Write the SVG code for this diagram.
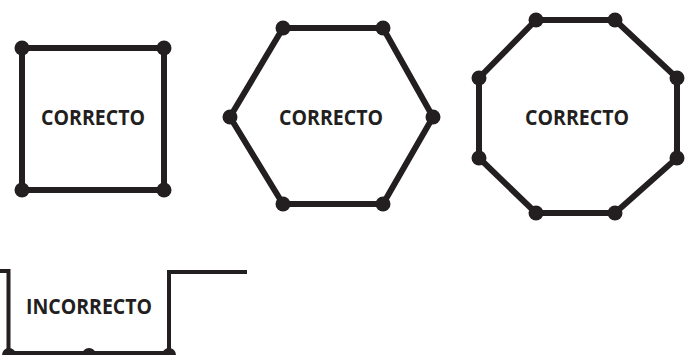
<svg xmlns="http://www.w3.org/2000/svg" width="691" height="355" viewBox="0 0 691 355">
<style>
.edge{fill:none;stroke:#231f20;stroke-width:6;stroke-linejoin:miter}
.thin{fill:none;stroke:#231f20;stroke-width:4}
.dot{fill:#231f20}
.lbl{font-family:"Open Sans","Liberation Sans",sans-serif;font-weight:bold;font-size:21px;fill:#231f20;text-anchor:middle}
</style>
<rect width="691" height="355" fill="#fff"/>
<g id="connectors">
<polygon class="edge" points="22,48 164,48 164,190 22,190"/>
<polygon class="edge" points="283,28 383,28 433,117 383,204 283,204 230,117"/>
<polygon class="edge" points="536,20 615,20 677,78 677,158 615,213 536,213 479,158 479,78"/>
<polyline class="thin" points="0,271 8.5,271 8.5,353 169,353 169,272 247,272"/>
</g>
<g id="square">
<circle class="dot" cx="22" cy="48" r="7.5"/><circle class="dot" cx="164" cy="48" r="7.5"/>
<circle class="dot" cx="22" cy="190" r="7.5"/><circle class="dot" cx="164" cy="190" r="7.5"/>
<text class="lbl" x="93" y="125" textLength="104" lengthAdjust="spacingAndGlyphs">CORRECTO</text>
</g>
<g id="hexagon">
<circle class="dot" cx="283" cy="28" r="7.5"/><circle class="dot" cx="383" cy="28" r="7.5"/>
<circle class="dot" cx="433" cy="117" r="7.5"/><circle class="dot" cx="230" cy="117" r="7.5"/>
<circle class="dot" cx="283" cy="204" r="7.5"/><circle class="dot" cx="383" cy="204" r="7.5"/>
<text class="lbl" x="331" y="125" textLength="104" lengthAdjust="spacingAndGlyphs">CORRECTO</text>
</g>
<g id="octagon">
<circle class="dot" cx="536" cy="20" r="7.5"/><circle class="dot" cx="615" cy="20" r="7.5"/>
<circle class="dot" cx="677" cy="78" r="7.5"/><circle class="dot" cx="677" cy="158" r="7.5"/>
<circle class="dot" cx="615" cy="213" r="7.5"/><circle class="dot" cx="536" cy="213" r="7.5"/>
<circle class="dot" cx="479" cy="158" r="7.5"/><circle class="dot" cx="479" cy="78" r="7.5"/>
<text class="lbl" x="577" y="125" textLength="104" lengthAdjust="spacingAndGlyphs">CORRECTO</text>
</g>
<g id="incorrect">
<circle class="dot" cx="9" cy="355" r="7"/><circle class="dot" cx="89" cy="355" r="7"/><circle class="dot" cx="169" cy="355" r="7"/>
<text class="lbl" x="89" y="314" textLength="126" lengthAdjust="spacingAndGlyphs">INCORRECTO</text>
</g>
</svg>
